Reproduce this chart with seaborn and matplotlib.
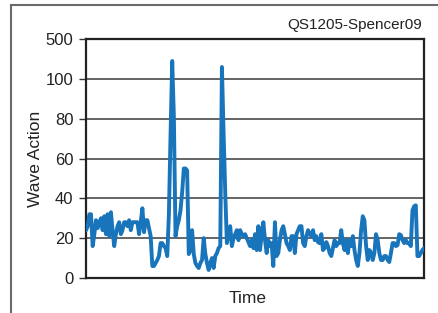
import matplotlib
matplotlib.use('Agg')
import matplotlib.pyplot as plt
import numpy as np
import pandas as pd
import seaborn as sns
from matplotlib.patches import Rectangle

# Wave action readings
wave_action = [
    24, 26, 32, 32, 16, 22, 29, 25, 28, 30, 24, 31, 22, 32, 21, 33, 24, 16, 22, 26,
    28, 22, 24, 28, 28, 26, 29, 24, 28, 28, 28, 28, 22, 28, 35, 23, 29, 29, 25, 21,
    6, 6, 7.5, 9, 11, 17.5, 17.5, 16, 15, 11, 32, 72, 109, 81, 21, 26, 29, 34, 43, 55,
    55, 54, 12, 14, 24, 12, 7.5, 6, 5, 7.5, 9, 20, 12, 7.5, 4, 7.5, 10, 5, 11, 12.5,
    15, 16, 106, 73, 43, 17.5, 22, 26, 16, 20, 22, 24, 19, 24, 22, 21, 22, 20, 18, 16,
    19, 15, 22, 14, 26, 14, 22, 28, 19, 12.5, 19, 16, 17.5, 6, 28, 11, 12.5, 19, 24, 26,
    22, 17.5, 16, 14, 21, 21, 12.5, 22, 24, 26, 26, 17.5, 16, 21, 24, 22, 21, 24, 19, 21,
    18, 17.5, 22, 14, 15, 18, 16, 12.5, 11, 15, 19, 16, 17.5, 17.5, 24, 17.5, 14, 19, 12.5, 19,
    16, 21, 14, 9, 6, 12.5, 24, 31, 29, 16, 9, 14, 12.5, 9, 12.5, 22, 19, 12.5, 9, 9,
    11, 11, 9, 8, 12.5, 17.5, 17.5, 16, 16.5, 22, 21.5, 19, 17.5, 19, 17.5, 17.5, 16, 34, 36, 36.5,
    11, 11, 12.5, 14, 15,
]
y_ticks = [0, 20, 40, 60, 80, 100, 120]
y_tick_labels = ['0', '20', '40', '60', '80', '100', '500']

df = pd.DataFrame({'time': np.arange(len(wave_action)), 'wave': wave_action})

sns.set_style('white')
plt.rcParams['font.family'] = ['Liberation Sans', 'DejaVu Sans']

fig = plt.figure(figsize=(4.39, 3.13), dpi=100)
ax = fig.add_axes([0.196, 0.112, 0.770, 0.763])

# partial frame around the figure (cropped on right and bottom)
fig.patches.append(Rectangle((0.025, -0.1), 1.2, 1.085, transform=fig.transFigure,
                             fill=False, edgecolor='#6b6b6b', linewidth=1.5))

for y in y_ticks[1:-1]:
    ax.axhline(y, color='#3a3a3a', linewidth=1.1, zorder=1)

sns.lineplot(data=df, x='time', y='wave', ax=ax, color='#1874bb', linewidth=2.8, zorder=3)

ax.set_xlim(df['time'].min(), df['time'].max())
ax.set_ylim(0, 120)
ax.set_yticks(y_ticks)
ax.set_yticklabels(y_tick_labels)
ax.set_xticks([])
ax.tick_params(axis='y', direction='out', length=5, width=1, color='#333333',
               labelsize=12, labelcolor='#222222', left=True, pad=4)
for s in ax.spines.values():
    s.set_color('#222222')
    s.set_linewidth(1.6)

ax.set_xlabel('Time', fontsize=12.5, color='#222222')
ax.set_ylabel('Wave Action', fontsize=12.5, color='#222222')
ax.xaxis.set_label_coords(0.479, -0.055)
ax.yaxis.set_label_coords(-0.128, 0.5)
fig.text(0.962, 0.92, 'QS1205-Spencer09', ha='right', va='center', fontsize=11,
         color='#222222')

fig.savefig('out.png', dpi=100)
